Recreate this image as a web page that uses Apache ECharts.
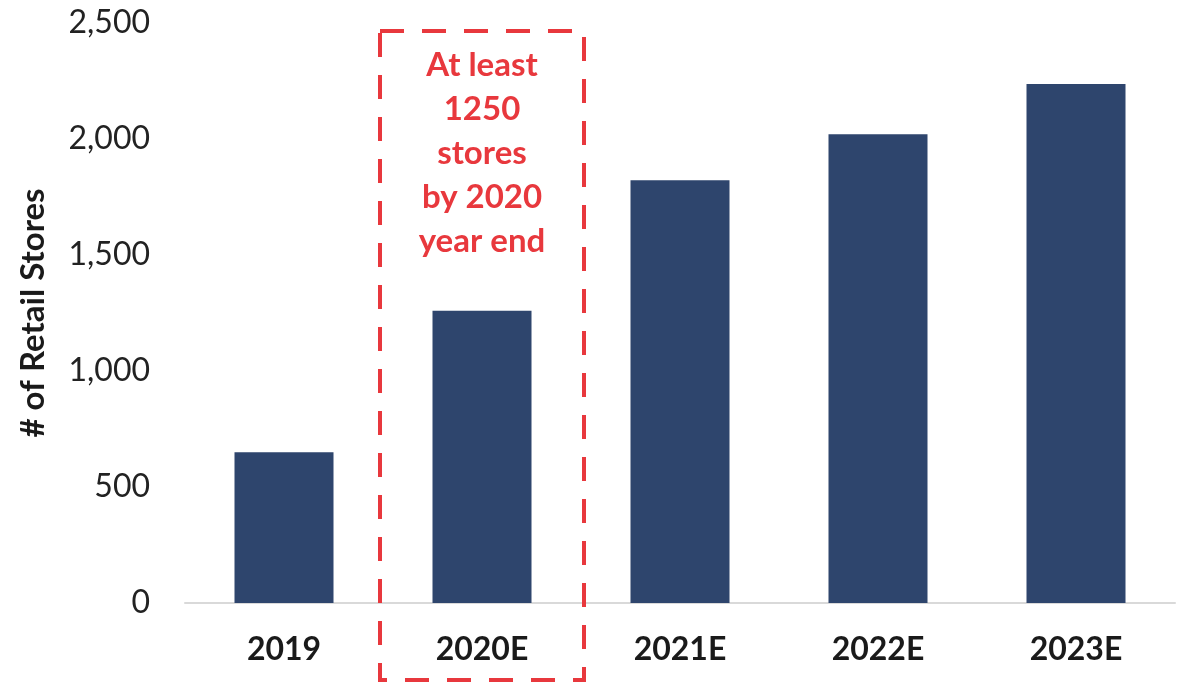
<!DOCTYPE html>
<html>
<head>
<meta charset="utf-8">
<script src="https://cdn.jsdelivr.net/npm/echarts@6/dist/echarts.min.js"></script>
<style>
  html, body { margin: 0; padding: 0; background: #fff; }
  #chart { width: 1184px; height: 683px; }
</style>
</head>
<body>
<div id="chart"></div>
<script>
// Retail store count by year (actual + estimates)
const years = ['2019', '2020E', '2021E', '2022E', '2023E'];
const stores = [650, 1260, 1822, 2020, 2237];
const yTicks = [0, 500, 1000, 1500, 2000, 2500];
const calloutLines = ['At least', '1250', 'stores', 'by 2020', 'year end'];
const calloutYear = '2020E';

const FONT = 'Lato, "Open Sans", sans-serif';
const BAR = '#2E456D';
const RED = '#E8383D';

const chart = echarts.init(document.getElementById('chart'), null, { renderer: 'canvas' });

chart.setOption({
  animation: false,
  backgroundColor: '#fff',
  grid: { left: 185, right: 9, top: 23, bottom: 80, containLabel: false },
  xAxis: {
    type: 'category',
    data: years,
    axisLine: { show: true, lineStyle: { color: '#D9D9D9', width: 2 } },
    axisTick: { show: false },
    axisLabel: {
      color: '#1A1A1A', fontFamily: FONT, fontWeight: 'bold', fontSize: 32, margin: 31
    }
  },
  yAxis: {
    type: 'value',
    min: yTicks[0],
    max: yTicks[yTicks.length - 1],
    interval: yTicks[1] - yTicks[0],
    name: '# of Retail Stores',
    nameLocation: 'middle',
    nameRotate: 90,
    nameGap: 135,
    nameTextStyle: { color: '#1A1A1A', fontFamily: FONT, fontWeight: 'bold', fontSize: 33 },
    axisLine: { show: false },
    axisTick: { show: false },
    splitLine: { show: false },
    axisLabel: {
      color: '#222', fontFamily: FONT, fontSize: 32, margin: 35,
      formatter: v => v.toLocaleString('en-US')
    }
  },
  series: [{
    type: 'bar',
    data: stores,
    barWidth: '50%',
    itemStyle: { color: BAR }
  }]
});

// Dashed callout box around the 2020E column, with its note
function drawCallout() {
  const idx = years.indexOf(calloutYear);
  const cx = chart.convertToPixel({ xAxisIndex: 0 }, idx);
  const step = chart.convertToPixel({ xAxisIndex: 0 }, idx + 1) - cx;
  const w = step + 6;
  const top = 31, bottom = 680;
  chart.setOption({
    graphic: [
      {
        type: 'rect',
        shape: { x: cx - w / 2, y: top, width: w, height: bottom - top },
        style: { fill: 'none', stroke: RED, lineWidth: 4, lineDash: [24, 18] },
        z: 10
      },
      {
        type: 'text',
        x: cx, y: 43,
        style: {
          text: calloutLines.join('\n'),
          fill: RED,
          font: 'bold 33px ' + FONT,
          align: 'center',
          verticalAlign: 'top',
          lineHeight: 44
        },
        z: 10
      }
    ]
  });
}
drawCallout();
</script>
</body>
</html>
